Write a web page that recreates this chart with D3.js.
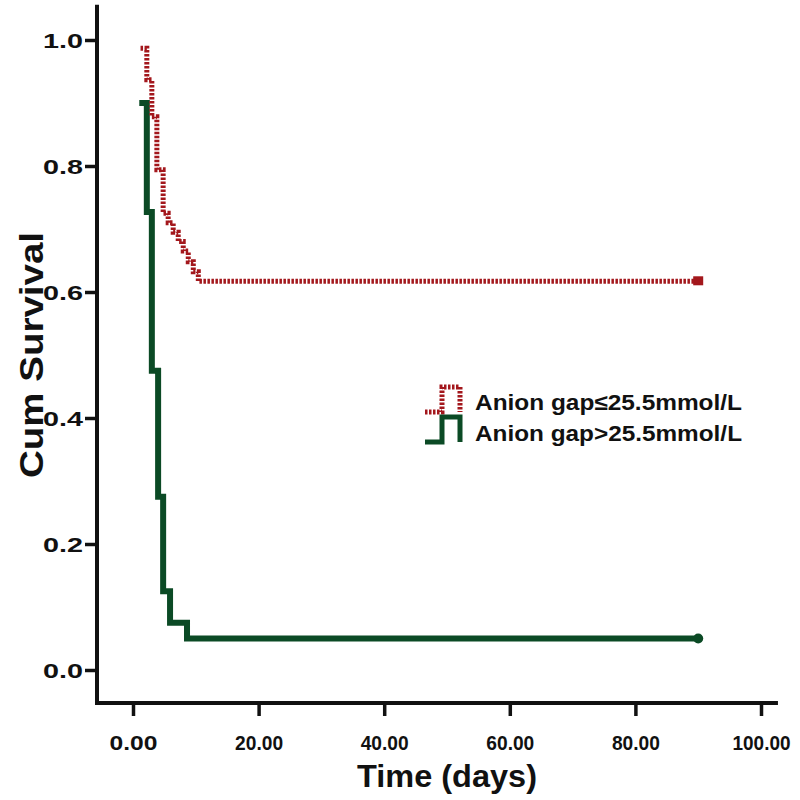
<!DOCTYPE html>
<html><head><meta charset="utf-8">
<script src="https://cdn.jsdelivr.net/npm/d3@7"></script>
<style>body{margin:0;background:#fff}svg{display:block}text{font-family:"Liberation Sans",Arial,sans-serif;font-weight:bold;fill:#111}</style>
</head><body>
<svg id="c" width="800" height="800"></svg>
<script>
const redTimes = [1.2, 2.2, 3.0, 3.8, 4.8, 5.6, 6.4, 7.2, 8.0, 8.8, 9.6, 10.4, 90];
const redSurv  = [0.987, 0.937, 0.878, 0.794, 0.725, 0.71, 0.695, 0.68, 0.665, 0.648, 0.632, 0.617, 0.617];
const greenTimes = [1.0, 2.2, 3.0, 4.0, 4.8, 5.9, 8.6, 90];
const greenSurv  = [0.9, 0.727, 0.475, 0.275, 0.125, 0.075, 0.05, 0.05];
const xTicks = [0, 20, 40, 60, 80, 100];
const yTicks = [0, 0.2, 0.4, 0.6, 0.8, 1.0];
const legendLabels = ["Anion gap\u226425.5mmol/L", "Anion gap>25.5mmol/L"];
const xTitle = "Time (days)", yTitle = "Cum Survival";

const svg = d3.select("#c");
const x = d3.scaleLinear().domain([0, 100]).range([133, 761]);
const y = d3.scaleLinear().domain([0, 1]).range([670, 40]);
const axX = 97, axY = 703;

// axes
const xAxis = d3.axisBottom(x).tickValues(xTicks).tickFormat(d3.format(".2f")).tickSize(13).tickSizeOuter(0);
const gx = svg.append("g").attr("transform", `translate(0,${axY})`).call(xAxis);
gx.select(".domain").remove();
gx.selectAll("line").attr("stroke", "#111").attr("stroke-width", 3.5);
gx.selectAll("text").attr("dy", null).attr("y", 47).style("font-size", "21px").attr("fill", "#111")
  .attr("textLength", d => d >= 100 ? 58 : 48).attr("lengthAdjust", "spacingAndGlyphs");
svg.append("line").attr("x1", axX).attr("x2", x(102.7)).attr("y1", axY).attr("y2", axY).attr("stroke", "#111").attr("stroke-width", 4);

const yAxis = d3.axisLeft(y).tickValues(yTicks).tickFormat(d3.format(".1f")).tickSize(12).tickSizeOuter(0);
const gy = svg.append("g").attr("transform", `translate(${axX},0)`).call(yAxis);
gy.select(".domain").remove();
gy.selectAll("line").attr("stroke", "#111").attr("stroke-width", 3.5);
gy.selectAll("text").attr("x", -14).attr("dy", "0.36em").style("font-size", "21px").attr("fill", "#111")
  .attr("textLength", 40).attr("lengthAdjust", "spacingAndGlyphs");
svg.append("line").attr("x1", axX).attr("x2", axX).attr("y1", y(1.056)).attr("y2", axY + 2).attr("stroke", "#111").attr("stroke-width", 4);

// titles
svg.append("text").attr("x", 447).attr("y", 787).attr("text-anchor", "middle").style("font-size", "31px")
  .attr("textLength", 180).attr("lengthAdjust", "spacingAndGlyphs").text(xTitle);
svg.append("text").attr("transform", "translate(43,355) rotate(-90)").attr("text-anchor", "middle").style("font-size", "33px")
  .attr("textLength", 246).attr("lengthAdjust", "spacingAndGlyphs").text(yTitle);

// curves
const line = d3.line().x(d => x(d[0])).y(d => y(d[1])).curve(d3.curveStepAfter);
const red = redTimes.map((t, i) => [t, redSurv[i]]);
const green = greenTimes.map((t, i) => [t, greenSurv[i]]);
const redC = "#a3171c", greenC = "#0b4a25";
svg.append("path").attr("d", line(green)).attr("fill", "none").attr("stroke", greenC).attr("stroke-width", 6).attr("stroke-linejoin", "miter");
svg.append("path").attr("d", line(red)).attr("fill", "none").attr("stroke", redC).attr("stroke-width", 5).attr("stroke-dasharray", "2.5,1.5");
svg.append("rect").attr("x", x(90) - 5).attr("y", y(redSurv[redSurv.length - 1]) - 5).attr("width", 10).attr("height", 9).attr("fill", redC);
svg.append("circle").attr("cx", x(90)).attr("cy", y(greenSurv[greenSurv.length - 1])).attr("r", 5).attr("fill", greenC);

// legend
const lg = svg.append("g");
const sym = (yb, yt) => `M425,${yb}H442V${yt}H460V${yb}`;
lg.append("path").attr("d", sym(412, 387)).attr("fill", "none").attr("stroke", redC).attr("stroke-width", 5).attr("stroke-dasharray", "2.5,1.5");
lg.append("path").attr("d", sym(442, 417)).attr("fill", "none").attr("stroke", greenC).attr("stroke-width", 5);
lg.selectAll("text.l").data(legendLabels).join("text").attr("class", "l")
  .attr("x", 475).attr("y", (d, i) => 410 + i * 31).style("font-size", "22px")
  .attr("textLength", (d, i) => i === 0 ? 267 : 267).attr("lengthAdjust", "spacingAndGlyphs").text(d => d);
</script>
</body></html>
